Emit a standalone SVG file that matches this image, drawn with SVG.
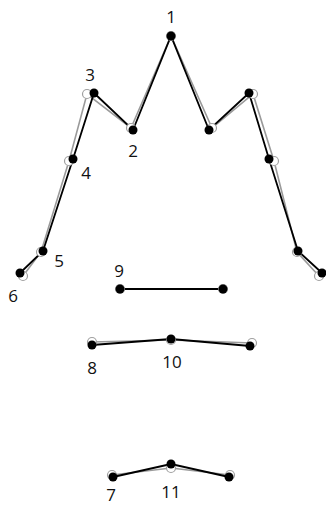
<svg xmlns="http://www.w3.org/2000/svg" width="326" height="507" viewBox="0 0 326 507">
<style>
.gt{fill:none;stroke:#9a9a9a;stroke-width:1.6}
.pr{fill:none;stroke:#000;stroke-width:1.8}
.gc{fill:#fff;stroke:#a0a0a0;stroke-width:1.2}
.bc{fill:#000}
text{font-family:"Open Sans","Liberation Sans",sans-serif;font-size:17px;fill:#111;text-anchor:middle}
</style>
<rect width="326" height="507" fill="#fff"/>
<g id="connectors">
<polyline class="gt" points="23,276 41,252 69,161 87,94 131,128 171,36 212,128 253,94 274,161 297,252 319,276"/>
<polyline class="gt" points="120,289 223,289"/>
<polyline class="gt" points="92,342 171,340 252,343"/>
<polyline class="gt" points="112,475 171,468 230,475"/>
<polyline class="pr" points="20,273 43,251 73,159 94,93 133,130 171,36 209,130 249,93 269,159 298,251 322,273"/>
<polyline class="pr" points="120,289 223,289"/>
<polyline class="pr" points="92,345 171,339 250,346"/>
<polyline class="pr" points="113,477 171,464 229,477"/>
</g>
<g id="p1"><circle class="gc" cx="171" cy="36" r="4.5"/><circle class="bc" cx="171" cy="36" r="4.5"/><text x="171" y="23">1</text></g>
<g id="p2"><circle class="gc" cx="131" cy="128" r="4.5"/><circle class="bc" cx="133" cy="130" r="4.5"/><text x="133" y="157">2</text></g>
<g id="p2r"><circle class="gc" cx="212" cy="128" r="4.5"/><circle class="bc" cx="209" cy="130" r="4.5"/></g>
<g id="p3"><circle class="gc" cx="87" cy="94" r="4.5"/><circle class="bc" cx="94" cy="93" r="4.5"/><text x="90" y="81">3</text></g>
<g id="p3r"><circle class="gc" cx="253" cy="94" r="4.5"/><circle class="bc" cx="249" cy="93" r="4.5"/></g>
<g id="p4"><circle class="gc" cx="69" cy="161" r="4.5"/><circle class="bc" cx="73" cy="159" r="4.5"/><text x="86" y="179">4</text></g>
<g id="p4r"><circle class="gc" cx="274" cy="161" r="4.5"/><circle class="bc" cx="269" cy="159" r="4.5"/></g>
<g id="p5"><circle class="gc" cx="41" cy="252" r="4.5"/><circle class="bc" cx="43" cy="251" r="4.5"/><text x="59" y="267">5</text></g>
<g id="p5r"><circle class="gc" cx="297" cy="252" r="4.5"/><circle class="bc" cx="298" cy="251" r="4.5"/></g>
<g id="p6"><circle class="gc" cx="23" cy="276" r="4.5"/><circle class="bc" cx="20" cy="273" r="4.5"/><text x="13" y="302">6</text></g>
<g id="p6r"><circle class="gc" cx="319" cy="276" r="4.5"/><circle class="bc" cx="322" cy="273" r="4.5"/></g>
<g id="p9"><circle class="gc" cx="120" cy="289" r="4.5"/><circle class="bc" cx="120" cy="289" r="4.5"/><text x="119" y="277">9</text></g>
<g id="p9r"><circle class="gc" cx="223" cy="289" r="4.5"/><circle class="bc" cx="223" cy="289" r="4.5"/></g>
<g id="p8"><circle class="gc" cx="92" cy="342" r="4.5"/><circle class="bc" cx="92" cy="345" r="4.5"/><text x="92" y="374">8</text></g>
<g id="p10"><circle class="gc" cx="171" cy="340" r="4.5"/><circle class="bc" cx="171" cy="339" r="4.5"/><text x="172" y="368">10</text></g>
<g id="p8r"><circle class="gc" cx="252" cy="343" r="4.5"/><circle class="bc" cx="250" cy="346" r="4.5"/></g>
<g id="p7"><circle class="gc" cx="112" cy="475" r="4.5"/><circle class="bc" cx="113" cy="477" r="4.5"/><text x="111" y="501">7</text></g>
<g id="p11"><circle class="gc" cx="171" cy="468" r="4.5"/><circle class="bc" cx="171" cy="464" r="4.5"/><text x="171" y="498">11</text></g>
<g id="p7r"><circle class="gc" cx="230" cy="475" r="4.5"/><circle class="bc" cx="229" cy="477" r="4.5"/></g>
</svg>
